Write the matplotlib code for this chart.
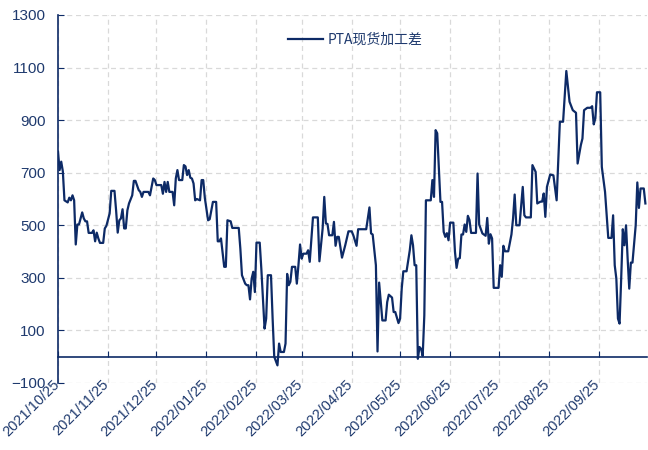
import matplotlib
matplotlib.use("Agg")
import matplotlib.pyplot as plt
import matplotlib.dates as mdates
import matplotlib.transforms as mtransforms
import pandas as pd

plt.rcParams['font.family'] = ['Liberation Sans', 'Noto Sans CJK SC', 'DejaVu Sans']

series_name = "PTA现货加工差"

dates = [
    "2021-10-25", "2021-10-26", "2021-10-27", "2021-10-28", "2021-10-29", "2021-10-31",
    "2021-11-01", "2021-11-02", "2021-11-03", "2021-11-04", "2021-11-05", "2021-11-06",
    "2021-11-07", "2021-11-09", "2021-11-10", "2021-11-11", "2021-11-12", "2021-11-13",
    "2021-11-15", "2021-11-16", "2021-11-17", "2021-11-18", "2021-11-19", "2021-11-20",
    "2021-11-22", "2021-11-23", "2021-11-24", "2021-11-26", "2021-11-27", "2021-11-29",
    "2021-11-30", "2021-12-01", "2021-12-02", "2021-12-03", "2021-12-04", "2021-12-05",
    "2021-12-06", "2021-12-07", "2021-12-08", "2021-12-10", "2021-12-11", "2021-12-12",
    "2021-12-14", "2021-12-15", "2021-12-16", "2021-12-17", "2021-12-20", "2021-12-21",
    "2021-12-23", "2021-12-24", "2021-12-25", "2021-12-28", "2021-12-29", "2021-12-30",
    "2021-12-31", "2022-01-01", "2022-01-02", "2022-01-04", "2022-01-05", "2022-01-06",
    "2022-01-07", "2022-01-08", "2022-01-10", "2022-01-11", "2022-01-12", "2022-01-13",
    "2022-01-14", "2022-01-15", "2022-01-16", "2022-01-17", "2022-01-18", "2022-01-19",
    "2022-01-21", "2022-01-22", "2022-01-23", "2022-01-24", "2022-01-26", "2022-01-27",
    "2022-01-29", "2022-01-31", "2022-02-01", "2022-02-02", "2022-02-03", "2022-02-05",
    "2022-02-06", "2022-02-07", "2022-02-09", "2022-02-10", "2022-02-14", "2022-02-15",
    "2022-02-16", "2022-02-18", "2022-02-19", "2022-02-20", "2022-02-21", "2022-02-22",
    "2022-02-23", "2022-02-24", "2022-02-25", "2022-02-27", "2022-02-28", "2022-03-02",
    "2022-03-03", "2022-03-04", "2022-03-06", "2022-03-07", "2022-03-08", "2022-03-10",
    "2022-03-11", "2022-03-12", "2022-03-14", "2022-03-15", "2022-03-16", "2022-03-17",
    "2022-03-18", "2022-03-19", "2022-03-21", "2022-03-22", "2022-03-23", "2022-03-24",
    "2022-03-25", "2022-03-26", "2022-03-28", "2022-03-29", "2022-03-30", "2022-04-01",
    "2022-04-04", "2022-04-05", "2022-04-07", "2022-04-08", "2022-04-09", "2022-04-10",
    "2022-04-11", "2022-04-13", "2022-04-14", "2022-04-15", "2022-04-16", "2022-04-17",
    "2022-04-19", "2022-04-21", "2022-04-23", "2022-04-25", "2022-04-26", "2022-04-28",
    "2022-04-29", "2022-05-04", "2022-05-06", "2022-05-07", "2022-05-08", "2022-05-10",
    "2022-05-11", "2022-05-12", "2022-05-14", "2022-05-16", "2022-05-17", "2022-05-18",
    "2022-05-20", "2022-05-21", "2022-05-22", "2022-05-24", "2022-05-25", "2022-05-26",
    "2022-05-27", "2022-05-29", "2022-05-31", "2022-06-01", "2022-06-02", "2022-06-03",
    "2022-06-04", "2022-06-05", "2022-06-06", "2022-06-07", "2022-06-08", "2022-06-09",
    "2022-06-10", "2022-06-13", "2022-06-14", "2022-06-15", "2022-06-16", "2022-06-17",
    "2022-06-19", "2022-06-20", "2022-06-21", "2022-06-22", "2022-06-23", "2022-06-24",
    "2022-06-25", "2022-06-27", "2022-06-28", "2022-06-29", "2022-06-30", "2022-07-01",
    "2022-07-02", "2022-07-03", "2022-07-04", "2022-07-05", "2022-07-06", "2022-07-07",
    "2022-07-08", "2022-07-11", "2022-07-12", "2022-07-13", "2022-07-15", "2022-07-17",
    "2022-07-18", "2022-07-19", "2022-07-20", "2022-07-21", "2022-07-22", "2022-07-25",
    "2022-07-26", "2022-07-27", "2022-07-28", "2022-07-29", "2022-07-31", "2022-08-02",
    "2022-08-03", "2022-08-04", "2022-08-05", "2022-08-07", "2022-08-09", "2022-08-10",
    "2022-08-11", "2022-08-14", "2022-08-15", "2022-08-17", "2022-08-18", "2022-08-20",
    "2022-08-21", "2022-08-22", "2022-08-23", "2022-08-24", "2022-08-26", "2022-08-28",
    "2022-08-30", "2022-08-31", "2022-09-01", "2022-09-03", "2022-09-05", "2022-09-07",
    "2022-09-09", "2022-09-11", "2022-09-12", "2022-09-14", "2022-09-15", "2022-09-16",
    "2022-09-18", "2022-09-20", "2022-09-21", "2022-09-22", "2022-09-23", "2022-09-24",
    "2022-09-26", "2022-09-27", "2022-09-29", "2022-10-01", "2022-10-03", "2022-10-04",
    "2022-10-05", "2022-10-06", "2022-10-07", "2022-10-08", "2022-10-09", "2022-10-10",
    "2022-10-11", "2022-10-12", "2022-10-13", "2022-10-14", "2022-10-15", "2022-10-16",
    "2022-10-18", "2022-10-19", "2022-10-20", "2022-10-21", "2022-10-23", "2022-10-24",
]

values = [
    780, 710, 742, 705, 595, 587,
    605, 595, 614, 595, 427, 503,
    503, 549, 526, 515, 515, 471,
    471, 481, 439, 472, 450, 433,
    433, 488, 498, 545, 631, 631,
    557, 472, 519, 526, 561, 488,
    488, 557, 583, 614, 669, 669,
    634, 627, 608, 627, 627, 614,
    678, 672, 653, 653, 620, 665,
    627, 665, 627, 627, 576, 678,
    710, 672, 672, 729, 724, 691,
    710, 681, 678, 659, 595, 600,
    595, 672, 672, 604, 519, 523,
    589, 589, 439, 439, 450, 342,
    342, 519, 515, 490, 490, 411,
    310, 278, 272, 272, 218, 297,
    323, 246, 434, 434, 335, 107,
    145, 310, 310, 145, 0, -33,
    50, 18, 18, 50, 315, 272,
    285, 342, 342, 278, 348, 427,
    373, 392, 392, 405, 361, 530,
    530, 363, 488, 608, 507, 505,
    462, 462, 513, 422, 456, 456,
    377, 424, 477, 477, 462, 422,
    485, 485, 568, 469, 465, 348,
    20, 282, 138, 138, 208, 236,
    225, 170, 170, 128, 145, 259,
    325, 325, 405, 462, 424, 348,
    348, -8, 37, 30, 3, 157,
    595, 595, 672, 608, 862, 850,
    589, 589, 475, 456, 470, 443,
    510, 510, 399, 338, 373, 375,
    465, 465, 503, 475, 536, 520,
    471, 471, 697, 503, 469, 460,
    528, 430, 466, 450, 262, 262,
    348, 304, 422, 401, 401, 465,
    526, 617, 500, 500, 646, 538,
    530, 530, 729, 703, 583, 590,
    590, 621, 532, 646, 693, 690,
    595, 742, 894, 894, 1087, 970,
    938, 928, 735, 805, 830, 938,
    947, 947, 953, 884, 907, 1006,
    1006, 722, 627, 452, 452, 538,
    348, 297, 145, 126, 297, 485,
    424, 500, 373, 259, 358, 358,
    500, 663, 566, 640, 640, 583,
]

tick_dates = ["2021-10-25", "2021-11-25", "2021-12-25", "2022-01-25", "2022-02-25",
              "2022-03-25", "2022-04-25", "2022-05-25", "2022-06-25", "2022-07-25",
              "2022-08-25", "2022-09-25"]
y_ticks = [-100, 100, 300, 500, 700, 900, 1100, 1300]

navy = "#0d2a66"
txt = "#1f3a6e"

x = pd.to_datetime(dates)
fig = plt.figure(figsize=(6.48, 4.5), dpi=100)
ax = fig.add_axes([58 / 648, 1 - 383 / 450, (647 - 58) / 648, (383 - 15) / 450])

ax.plot(x, values, color=navy, lw=1.6, label=series_name, zorder=3)

ax.set_xlim(pd.Timestamp("2021-10-25"), pd.Timestamp("2022-10-25"))
ax.set_ylim(-100, 1300)
ax.set_yticks(y_ticks)
ax.set_xticks(pd.to_datetime(tick_dates))
ax.xaxis.set_major_formatter(mdates.DateFormatter("%Y/%m/%d"))

ax.grid(True, color="#d9d9d9", linestyle=(0, (4, 3)), lw=0.9)
ax.set_axisbelow(True)
for s in ["top", "right"]:
    ax.spines[s].set_visible(False)
ax.spines["left"].set_color(navy)
ax.spines["left"].set_linewidth(1.2)
ax.spines["bottom"].set_position(("data", 0))
ax.spines["bottom"].set_color(navy)
ax.spines["bottom"].set_linewidth(1.2)
ax.spines["bottom"].set_zorder(4)

ax.tick_params(axis="y", direction="in", length=4, color=navy, labelcolor=txt,
               labelsize=11, pad=9)
ax.tick_params(axis="x", direction="in", length=4, color=navy, labelcolor=txt,
               labelsize=10.5, pad=15)
shift = mtransforms.ScaledTranslation(-6 / 100, 0, fig.dpi_scale_trans)
for lab in ax.get_xticklabels():
    lab.set_rotation(45)
    lab.set_ha("right")
    lab.set_va("top")
    lab.set_rotation_mode("anchor")
    lab.set_transform(lab.get_transform() + shift)

leg = ax.legend(loc="upper left", bbox_to_anchor=(0.37, 0.985), frameon=False,
                handlelength=2.5, handletextpad=0.3,
                prop={"family": ["Noto Sans CJK SC", "DejaVu Sans"], "size": 10})
for t in leg.get_texts():
    t.set_color(txt)

fig.savefig("out.png", dpi=100)
